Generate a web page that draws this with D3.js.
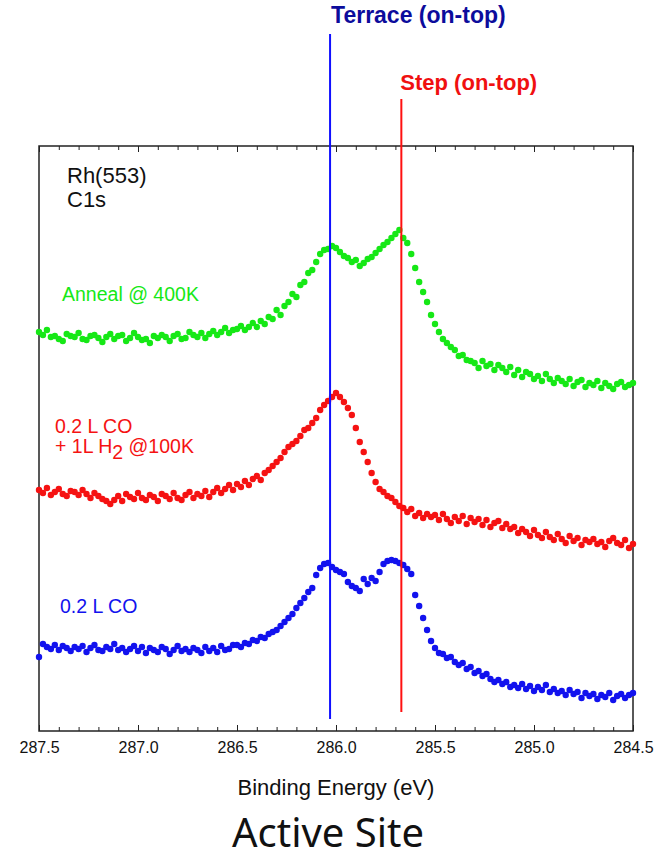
<!DOCTYPE html>
<html>
<head>
<meta charset="utf-8">
<script src="https://cdn.jsdelivr.net/npm/d3@7"></script>
<style>
    body { margin: 0; background: #fff; }
    svg { display: block; font-family: "Liberation Sans", Arial, sans-serif; }
</style>
</head>
<body>
<div id="chart-container"><svg id="chart" viewBox="0 0 664 860" width="664" height="860"></svg></div>
<script>

// energy grid of the spectra (eV), 0.02 eV steps from 287.5 down to 284.5
const energies = d3.range(0, 151).map(i => +(287.5 - i * 0.02).toFixed(2));

// intensities (arb. units, stacked with offsets as in the figure)
const annealCounts = [
    381,378,383,376,377,374,372,379,377,376,
    380,374,373,377,378,375,371,376,379,374,
    377,378,372,375,380,376,373,374,370,377,
    375,378,376,372,377,379,374,375,381,378,
    376,380,375,379,382,378,381,385,380,383,
    384,387,383,386,390,386,392,389,396,394,
    403,398,407,411,419,416,428,431,440,443,
    451,459,463,464,467,465,461,457,455,451,
    453,447,450,454,456,460,464,468,471,475,
    479,483,475,470,459,445,431,421,411,398,
    389,381,374,370,366,363,357,358,353,352,
    350,345,352,347,349,343,348,345,341,346,
    338,343,336,341,339,334,337,332,339,334,
    330,335,332,329,334,327,331,333,326,330,
    328,332,325,330,327,324,329,331,326,328,
    330
];

const coH2Counts = [
    223,220,225,218,221,224,219,217,222,221,
    218,223,219,215,220,217,214,212,209,213,
    217,212,219,216,214,220,215,213,218,216,
    212,219,217,214,220,215,213,218,221,215,
    219,217,222,216,221,225,220,224,228,223,
    229,226,232,228,234,237,233,240,243,247,
    251,255,261,266,269,272,277,283,285,290,
    295,303,308,312,316,320,316,311,305,298,
    285,271,261,251,240,231,224,221,217,215,
    211,207,205,201,204,197,200,195,199,196,
    198,193,199,194,190,196,192,197,189,195,
    191,194,188,193,186,190,192,185,189,184,
    186,180,184,181,177,183,178,175,181,176,
    173,179,174,170,177,172,175,168,173,171,
    174,169,171,166,172,175,170,168,173,165,
    169
];

const coCounts = [
    56,69,66,64,68,63,67,65,62,66,
    64,67,61,65,68,63,62,66,64,69,
    63,65,61,64,67,62,66,60,65,63,
    61,66,64,59,63,67,62,64,61,65,
    63,60,66,62,65,61,67,63,64,68,
    68,66,70,69,73,72,76,75,79,81,
    83,87,91,95,99,105,110,115,121,125,
    138,145,149,150,146,143,141,139,131,127,
    125,122,134,129,135,132,141,149,152,153,
    152,150,148,144,139,118,107,95,83,72,
    65,60,59,55,56,51,48,50,44,46,
    40,42,37,39,34,31,33,29,31,26,
    28,25,29,24,27,22,26,23,28,21,
    24,20,22,18,23,19,21,15,20,17,
    19,14,18,16,20,13,17,19,15,18,
    20
];

const majorTicks = [287.5, 287.0, 286.5, 286.0, 285.5, 285.0, 284.5];
const minorTicks = d3.range(0, 31).map(i => +(287.5 - i * 0.1).toFixed(1));

// reference positions of the adsorption sites
const terraceEnergy = 286.03;
const stepEnergy = 285.67;

const series = [
    {name: "anneal", values: annealCounts, color: "#16e816"},
    {name: "coh2", values: coH2Counts, color: "#f51212"},
    {name: "co", values: coCounts, color: "#1212ee"}
];

let svg = d3.select("#chart");
const margin = {top: 146, right: 31, bottom: 129, left: 39};
const w = 664, h = 860;

let x = d3.scaleLinear()
    .domain([287.5, 284.5])
    .range([margin.left, w - margin.right]);

let y = d3.scaleLinear()
    .domain([-18, 567])
    .range([h - margin.bottom, margin.top]);

// axes: ticks point into the frame on top and bottom
let bottomAxis = svg.append("g")
    .attr("transform", "translate(0," + (h - margin.bottom) + ")");
bottomAxis.call(d3.axisBottom(x).tickValues(minorTicks).tickSize(-4).tickSizeOuter(0).tickFormat(""));
bottomAxis.append("g").call(d3.axisBottom(x).tickValues(majorTicks).tickSize(-6).tickSizeOuter(0)
    .tickPadding(11).tickFormat(d3.format(".1f")));

let topAxis = svg.append("g")
    .attr("transform", "translate(0," + margin.top + ")");
topAxis.call(d3.axisTop(x).tickValues(minorTicks).tickSize(-4).tickSizeOuter(0).tickFormat(""));
topAxis.append("g").call(d3.axisTop(x).tickValues(majorTicks).tickSize(-6).tickSizeOuter(0).tickFormat(""));

svg.selectAll(".domain").remove();
svg.selectAll(".tick line").attr("stroke", "#222").attr("stroke-width", 1);
svg.selectAll(".tick text")
    .style("font-size", "16px")
    .style("font-family", "'Liberation Sans', Arial, sans-serif")
    .attr("fill", "#111");

// frame
svg.append("rect")
    .attr("x", margin.left)
    .attr("y", margin.top)
    .attr("width", w - margin.left - margin.right)
    .attr("height", h - margin.top - margin.bottom)
    .style("fill", "none")
    .style("stroke", "#222")
    .style("stroke-width", 1.5);

// spectra
series.forEach(function(s) {
    svg.append("g")
        .attr("class", "series-" + s.name)
        .selectAll("circle")
        .data(s.values)
        .join("circle")
        .attr("cx", (d, i) => x(energies[i]))
        .attr("cy", d => y(d))
        .attr("r", 3.2)
        .style("fill", s.color);
});

// site markers
svg.append("line")
    .attr("x1", x(terraceEnergy)).attr("x2", x(terraceEnergy))
    .attr("y1", 34).attr("y2", 719)
    .style("stroke", "#1010ff")
    .style("stroke-width", 2);
svg.append("line")
    .attr("x1", x(stepEnergy)).attr("x2", x(stepEnergy))
    .attr("y1", 99).attr("y2", 712)
    .style("stroke", "#ff1010")
    .style("stroke-width", 2);

svg.append("text")
    .attr("x", x(terraceEnergy) + 1)
    .attr("y", 23)
    .style("font-size", "23px")
    .style("font-weight", "bold")
    .style("fill", "#0c0c9c")
    .text("Terrace (on-top)");
svg.append("text")
    .attr("x", x(stepEnergy) - 1)
    .attr("y", 90)
    .style("font-size", "22px")
    .style("font-weight", "bold")
    .style("fill", "#f01010")
    .text("Step (on-top)");

// annotations
svg.append("text").attr("x", 67).attr("y", 183)
    .style("font-size", "22px").style("fill", "#111").text("Rh(553)");
svg.append("text").attr("x", 67).attr("y", 207)
    .style("font-size", "22px").style("fill", "#111").text("C1s");

svg.append("text").attr("x", 62).attr("y", 301)
    .style("font-size", "19.5px").style("fill", "#16e816").text("Anneal @ 400K");

svg.append("text").attr("x", 55).attr("y", 433)
    .style("font-size", "19.5px").style("fill", "#f51212").text("0.2 L CO");
let h2 = svg.append("text").attr("x", 55).attr("y", 453)
    .style("font-size", "19.5px").style("fill", "#f51212");
h2.append("tspan").text("+ 1L H");
h2.append("tspan").attr("dy", 6).text("2");
h2.append("tspan").attr("dy", -6).text(" @100K");

svg.append("text").attr("x", 60).attr("y", 613)
    .style("font-size", "19.5px").style("fill", "#1212ee").text("0.2 L CO");

svg.append("text")
    .attr("x", (margin.left + w - margin.right) / 2)
    .attr("y", 795)
    .attr("text-anchor", "middle")
    .style("font-size", "22px")
    .style("fill", "#111")
    .text("Binding Energy (eV)");

svg.append("text")
    .attr("x", 328)
    .attr("y", 847)
    .attr("text-anchor", "middle")
    .style("font-family", "'Noto Sans', 'Open Sans', sans-serif")
    .style("font-size", "40px")
    .style("fill", "#111")
    .text("Active Site");

</script>
</body>
</html>
